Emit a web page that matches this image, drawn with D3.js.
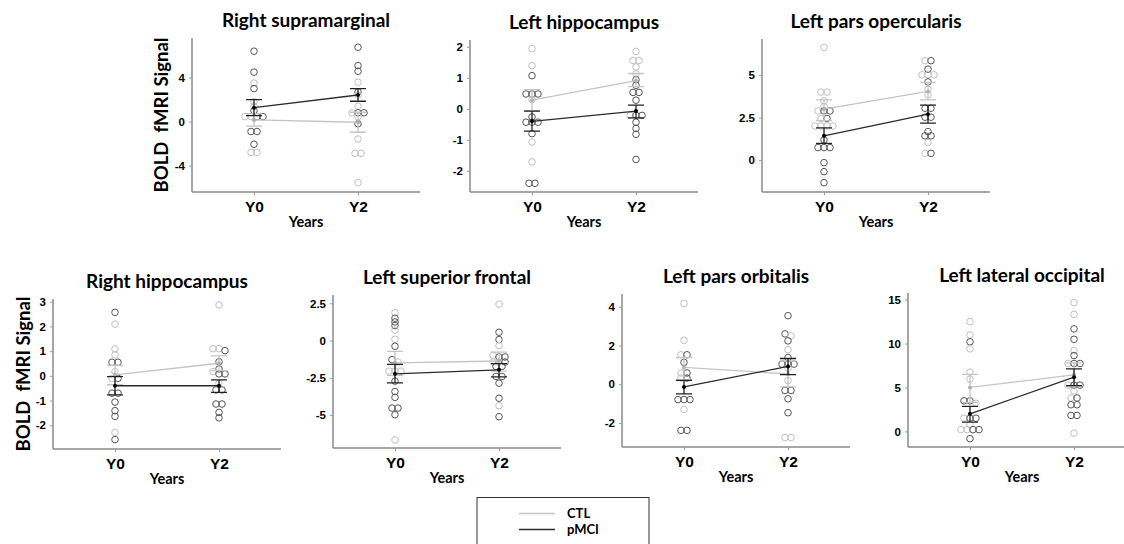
<!DOCTYPE html>
<html><head><meta charset="utf-8">
<script src="https://cdn.jsdelivr.net/npm/d3@7"></script>
<style>body{margin:0;background:#fff;}svg{display:block;font-family:Lato,"Open Sans",sans-serif;}</style>
</head><body>
<svg id="chart" width="1124" height="544"></svg>
<script>
const regions = ["Right supramarginal","Left hippocampus","Left pars opercularis","Right hippocampus","Left superior frontal","Left pars orbitalis","Left lateral occipital"];
const timepoints = ["Y0","Y2"];
const groups = ["CTL","pMCI"];
const yTicks = [[-4,0,4],[-2,-1,0,1,2],[0,2.5,5],[-2,-1,0,1,2,3],[-5,-2.5,0,2.5],[-2,0,2,4],[0,5,10,15]];
const yDomains = [[-6.4,7.6],[-2.68,2.22],[-1.89,7.13],[-2.96,3.11],[-7.21,3.06],[-3.24,4.66],[-1.78,15.76]];

const ctlY0 = [
 [3.5,1.8,1.4,0.45,0.45,-2.8,-2.8],
 [1.94,1.39,0.3,-1.07,-1.71],
 [6.63,4.0,4.0,3.48,3.15,2.89,2.44,2.0,2.0,2.0,2.0],
 [2.09,1.09,0.85,0.17,-0.1,-2.29],
 [1.87,0.7,0.09,-1.44,-2.05,-2.05,-2.05,-6.67],
 [4.17,2.27,1.52,0.58,0.32,-1.3],
 [12.5,10.98,9.4,6.74,5.95,3.2,1.5,0.76,0.2,0.2]
];
const pmciY0 = [
 [6.4,4.5,3.0,1.0,0.45,0.45,-0.9,-0.9,-2.06],
 [1.07,0.48,0.48,0.48,-0.26,-0.43,-0.43,-0.43,-0.8,-2.4,-2.4],
 [2.89,2.89,2.44,1.18,0.73,0.73,0.73,-0.16,-0.69,-1.34],
 [2.57,0.55,0.55,-0.1,-0.7,-0.7,-1.06,-1.41,-1.64,-2.58],
 [1.5,1.25,1.01,-0.38,-1.28,-2.72,-3.42,-3.81,-4.53,-4.53,-4.98],
 [1.52,1.13,0.58,0.32,-0.79,-0.79,-0.79,-2.38,-2.38],
 [10.2,3.48,3.48,1.5,1.5,0.2,0.2,-0.83]
];
const ctlY2 = [
 [3.58,2.4,1.4,0.8,0.45,-1.58,-2.88,-2.88,-5.55],
 [1.85,1.56,1.56,1.35,1.13,-0.21],
 [5.85,5.02,5.02,5.02,4.17,3.84,1.02,0.39],
 [2.87,1.1,1.1,0.17,-0.3],
 [2.45,-0.34,-0.99,-1.44,-1.44,-4.37],
 [2.5,1.78,0.84,0.19,-2.75,-2.75],
 [14.66,13.33,9.2,7.73,5.27,4.6,3.8,-0.2]
];
const pmciY2 = [
 [6.76,5.09,4.58,2.7,0.8,0.8,-0.2],
 [0.94,0.76,0.53,0.53,0.28,-0.21,-0.21,-0.43,-0.63,-0.82,-1.63],
 [5.85,5.35,4.6,3.05,3.05,2.52,2.52,1.67,1.42,1.42,0.39],
 [1.02,0.57,0.28,0.08,0.08,-0.57,-0.57,-1.14,-1.14,-1.48,-1.7],
 [0.56,0.07,-1.1,-1.1,-1.44,-1.73,-1.73,-2.41,-2.41,-2.86,-3.87,-5.11],
 [3.54,2.6,2.24,1.38,1.04,1.04,1.04,-0.32,-0.32,-0.75,-1.47],
 [11.67,10.49,8.64,7.73,7.73,5.27,5.27,3.8,3.03,3.03,1.82,1.82]
];
// means and error-bar ends [Y0, Y2]
const ctlMean = [[0.15,-0.06],[0.28,0.91],[2.99,4.04],[0.04,0.51],[-1.49,-1.37],[0.87,0.53],[5.0,6.44]];
const ctlLow  = [[-0.42,-0.97],[-0.06,0.72],[2.32,3.54],[-0.36,0.21],[-2.34,-2.05],[0.24,-0.14],[3.3,5.1]];
const ctlHigh = [[0.72,0.85],[0.62,1.14],[3.54,4.57],[0.43,0.81],[-0.72,-0.77],[1.38,1.2],[6.5,7.8]];
const pmciMean = [[1.27,2.42],[-0.4,-0.07],[1.42,2.7],[-0.4,-0.4],[-2.23,-1.96],[-0.14,0.92],[2.0,6.17]];
const pmciLow  = [[0.55,1.85],[-0.72,-0.29],[0.98,2.17],[-0.77,-0.67],[-2.84,-2.43],[-0.5,0.5],[1.06,5.2]];
const pmciHigh = [[2.0,3.0],[-0.07,0.12],[1.89,3.23],[-0.03,-0.16],[-1.6,-1.55],[0.2,1.33],[2.84,7.12]];

const yLabel = "BOLD  fMRI Signal";
const xLabel = "Years";

const layout = [
 {l:192,t:38,b:192},{l:470,t:40,b:192},{l:762,t:39,b:192},
 {l:53,t:299,b:449},{l:333,t:295,b:448},{l:622,t:294,b:447},{l:908,t:293,b:447}
];
const W = 228;
const col = {CTL:{pt:"#c0c0c0",line:"#c4c4c4",bar:"#c4c4c4",dot:"#b0b0b0"},
             pMCI:{pt:"#555555",line:"#2b2b2b",bar:"#222",dot:"#000"}};

const svg = d3.select("#chart");

regions.forEach((name,i)=>{
  const L = layout[i];
  const g = svg.append("g");
  const x = d3.scalePoint().domain(timepoints).range([L.l, L.l+W]).padding(0.596);
  const y = d3.scaleLinear().domain(yDomains[i]).range([L.b, L.t]);

  // axes
  const ya = g.append("g").attr("transform",`translate(${L.l},0)`)
    .call(d3.axisLeft(y).tickValues(yTicks[i]).tickSize(3).tickPadding(4).tickFormat(d=>String(d)));
  const xa = g.append("g").attr("transform",`translate(0,${L.b})`)
    .call(d3.axisBottom(x).tickSize(3).tickPadding(6).tickSizeOuter(0));
  ya.select(".domain").attr("d",`M0,${L.t}V${L.b}`);
  xa.select(".domain").attr("d",`M${L.l},0H${L.l+W}`);
  [ya,xa].forEach(a=>{
    a.select(".domain").attr("stroke","#8a8a8a").attr("stroke-width",1.5);
    a.selectAll(".tick line").attr("stroke","#9a9a9a");
    a.selectAll(".tick text").attr("fill","#000").attr("font-weight","bold");
  });
  ya.selectAll(".tick text").attr("font-size",11.5);
  xa.selectAll(".tick text").attr("font-size",15.5);

  // title
  g.append("text").attr("x",L.l+W/2).attr("y",L.t-11).attr("text-anchor","middle")
    .attr("font-size",19).attr("font-weight","bold").text(name);
  // x label
  g.append("text").attr("x",(x("Y0")+x("Y2"))/2).attr("y",L.b+35).attr("text-anchor","middle")
    .attr("font-size",14.5).attr("font-weight","bold").text(xLabel);
  if(i===0||i===3){
    g.append("text").attr("transform",`translate(${L.l-(i===0?24:23)},${(L.t+L.b)/2}) rotate(-90)`)
      .attr("text-anchor","middle").attr("font-size",18.5).attr("font-weight","bold")
      .style("white-space","pre").text(yLabel);
  }

  // points with simple row-jitter
  const sets = {Y0:[...ctlY0[i].map(v=>({v,grp:"CTL"})),...pmciY0[i].map(v=>({v,grp:"pMCI"}))],
                Y2:[...ctlY2[i].map(v=>({v,grp:"CTL"})),...pmciY2[i].map(v=>({v,grp:"pMCI"}))]};
  const pts=[];
  timepoints.forEach(tp=>{
    const arr = sets[tp].slice().sort((a,b)=>b.v-a.v);
    let clusters=[];
    arr.forEach(p=>{
      const last = clusters[clusters.length-1];
      if(last && Math.abs(y(last[0].v)-y(p.v))<2.5) last.push(p); else clusters.push([p]);
    });
    clusters.forEach(c=>{
      c.forEach((p,k)=>pts.push({tp,v:p.v,grp:p.grp,dx:(k-(c.length-1)/2)*6}));
    });
  });
  g.selectAll("circle.pt").data(pts).join("circle").attr("class","pt")
    .attr("cx",d=>x(d.tp)+d.dx).attr("cy",d=>y(d.v)).attr("r",3.3)
    .attr("fill","none").attr("stroke",d=>col[d.grp].pt).attr("stroke-width",1);

  // means, lines, error bars
  const stats = {CTL:{m:ctlMean[i],lo:ctlLow[i],hi:ctlHigh[i]},pMCI:{m:pmciMean[i],lo:pmciLow[i],hi:pmciHigh[i]}};
  groups.forEach(gr=>{
    const s = stats[gr], c = col[gr];
    g.append("path").attr("d",d3.line()(timepoints.map((tp,k)=>[x(tp),y(s.m[k])])))
      .attr("stroke",c.line).attr("stroke-width",1.3).attr("fill","none");
    timepoints.forEach((tp,k)=>{
      const cx=x(tp);
      g.append("path").attr("d",`M${cx},${y(s.lo[k])}V${y(s.hi[k])}M${cx-8},${y(s.lo[k])}H${cx+8}M${cx-8},${y(s.hi[k])}H${cx+8}`)
        .attr("stroke",c.bar).attr("stroke-width",1.3).attr("fill","none");
      g.append("circle").attr("cx",cx).attr("cy",y(s.m[k])).attr("r",2).attr("fill",c.dot);
    });
  });
});

// legend
const lg = svg.append("g");
lg.append("rect").attr("x",477).attr("y",497.5).attr("width",172).attr("height",60)
  .attr("fill","#fff").attr("stroke","#333").attr("stroke-width",1);
groups.forEach((gr,k)=>{
  const yy = 513.5 + k*16;
  lg.append("line").attr("x1",519).attr("x2",555).attr("y1",yy).attr("y2",yy)
    .attr("stroke",col[gr].line).attr("stroke-width",1.3);
  lg.append("text").attr("x",567).attr("y",yy+4.5).attr("font-size",13).attr("font-weight","bold").text(gr);
});
</script>
</body></html>
